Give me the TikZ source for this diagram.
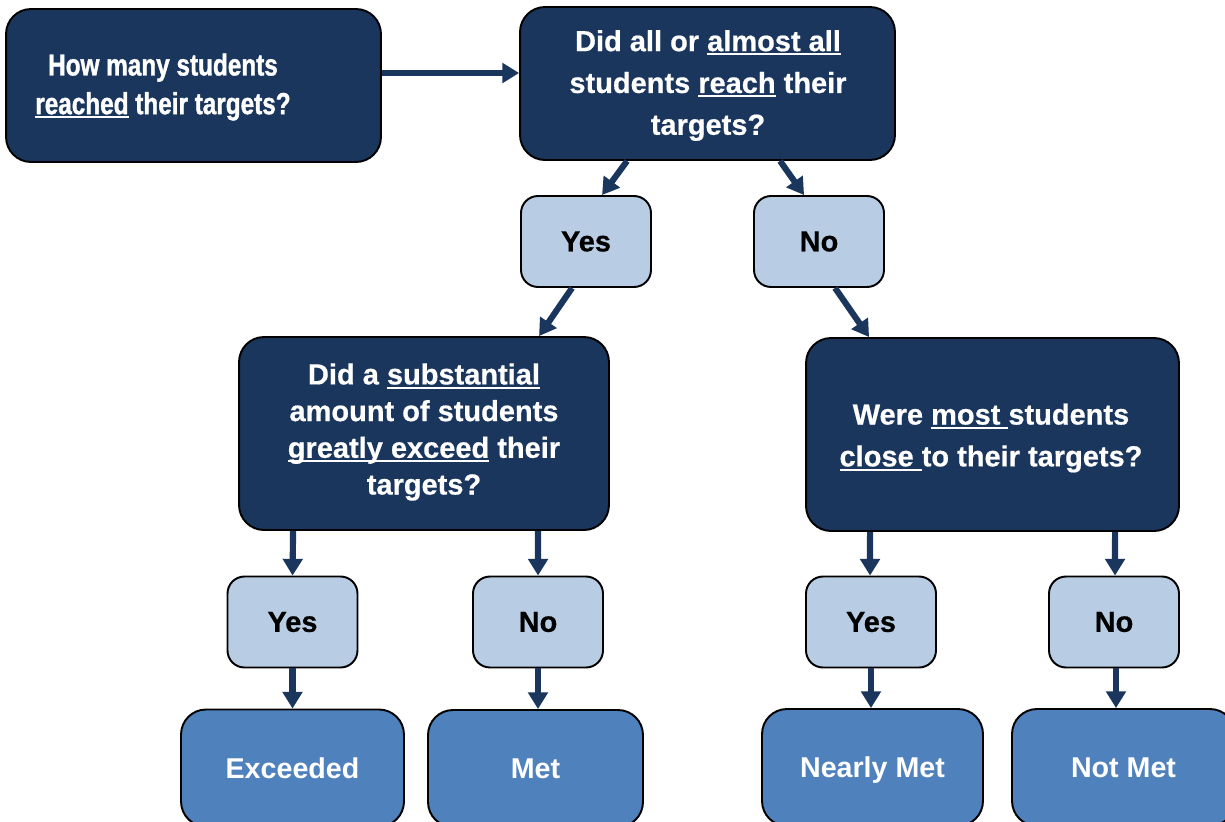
\documentclass[tikz,border=0pt]{standalone}
\usepackage{fontspec}
\setmainfont{Liberation Sans}
\newfontfamily\qfont[FakeStretch=0.8,FakeBold=1.2]{Liberation Sans}
\newfontfamily\qbfont[FakeBold=0.6]{Liberation Sans}
\usetikzlibrary{calc,arrows.meta}
\definecolor{navy}{HTML}{1B365D}
\definecolor{lightb}{HTML}{B8CCE4}
\definecolor{midb}{HTML}{4F81BD}
\newcommand\uln[1]{\setbox0\hbox{#1}\rlap{\rule[-2.4pt]{\wd0}{1.1pt}}\box0\relax}
\begin{document}
\begin{tikzpicture}[x=0.02cm,y=-0.02cm,
  qbox/.style={draw=black,line width=1.1pt,fill=navy,rounded corners=0.5cm,inner sep=0pt},
  qtext/.style={text=white,font=\qbfont\bfseries\fontsize{16.5}{23.8}\selectfont,align=center,inner sep=0pt},
  ansbox/.style={draw=black,line width=1.1pt,fill=lightb,rounded corners=0.34cm,text=black,
    font=\qbfont\bfseries\fontsize{16.5}{19}\selectfont,inner sep=0pt,minimum width=2.6cm,minimum height=1.82cm},
  resbox/.style={draw=black,line width=1.1pt,fill=midb,rounded corners=0.5cm,text=white,
    font=\bfseries\fontsize{16.3}{19}\selectfont,inner sep=0pt,minimum height=2.34cm,
    text height=11.7pt,text depth=0pt},
  arr/.style={draw=navy,line width=3.5pt,-{Triangle[width=11pt,length=9.5pt]}}
]
\clip (0,0) rectangle (1225,822);
\fill[white] (0,0) rectangle (1225,822);

\node[qbox,minimum width=7.5cm,minimum height=3.06cm] (A) at (193.5,85.5) {};
\node[qtext,font=\qfont\bfseries\fontsize{17.3}{22}\selectfont] (At) at (163,87)
  {How many students\\\uln{reached} their targets?};
\node[qbox,minimum width=7.5cm,minimum height=3.06cm] (B) at (707.5,83.5) {};
\node[qtext] (Bt) at (708,85.5)
  {Did all or \uln{almost all}\\students \uln{reach} their\\targets?};
\node[ansbox] (Y1) at (586,241.5) {Yes};
\node[ansbox] (N1) at (819,241.5) {No};
\node[qbox,minimum width=7.4cm,minimum height=3.86cm] (C) at (424,433.5) {};
\node[qtext,font=\qbfont\bfseries\fontsize{16.5}{20.9}\selectfont] (Ct) at (424,432)
  {Did a \uln{substantial}\\amount of students\\\uln{greatly exceed} their\\targets?};
\node[qbox,minimum width=7.46cm,minimum height=3.86cm] (D) at (992.5,434.5) {};
\node[qtext] (Dt) at (991,438)
  {Were \uln{most\ }students\\\uln{close\ }to their targets?};
\node[ansbox] (Y2) at (292.5,622) {Yes};
\node[ansbox] (N2) at (538,622) {No};
\node[ansbox] (Y3) at (871,622) {Yes};
\node[ansbox] (N3) at (1114,622) {No};
\node[resbox,minimum width=4.46cm] (E) at (292.5,768) {Exceeded};
\node[resbox,minimum width=4.3cm] (M) at (535.5,768.5) {Met};
\node[resbox,minimum width=4.42cm] (NM) at (872.5,767.5) {Nearly Met};
\node[resbox,minimum width=4.46cm] (NT) at (1123.5,767.5) {Not Met};

\draw[arr] ($(A.east)+(0,-12.5)$) -- ($(B.west)+(0,-10.5)$);
\draw[arr] ($(B.south west)+(108,0)$) -- ($(Y1.north west)+(82,0)$);
\draw[arr] ($(B.south west)+(261,0)$) -- ($(N1.north west)+(51,0)$);
\draw[arr] ($(Y1.south west)+(52,0)$) -- ($(C.north west)+(301,0)$);
\draw[arr] ($(N1.south west)+(82,0)$) -- ($(D.north west)+(64,0)$);
\draw[arr] ($(C.south west)+(55,0)$) -- ($(Y2.north west)+(66,0)$);
\draw[arr] ($(C.south west)+(300,0)$) -- ($(N2.north west)+(66,0)$);
\draw[arr] ($(D.south west)+(65,0)$) -- ($(Y3.north west)+(65,0)$);
\draw[arr] ($(D.south west)+(310,0)$) -- ($(N3.north west)+(67,0)$);
\draw[arr] (Y2.south) -- (Y2.south |- E.north);
\draw[arr] (N2.south) -- (N2.south |- M.north);
\draw[arr] (Y3.south) -- (Y3.south |- NM.north);
\draw[arr] ($(N3.south)+(2,0)$) -- ($(N3.south |- NT.north)+(2,0)$);
\end{tikzpicture}
\end{document}
